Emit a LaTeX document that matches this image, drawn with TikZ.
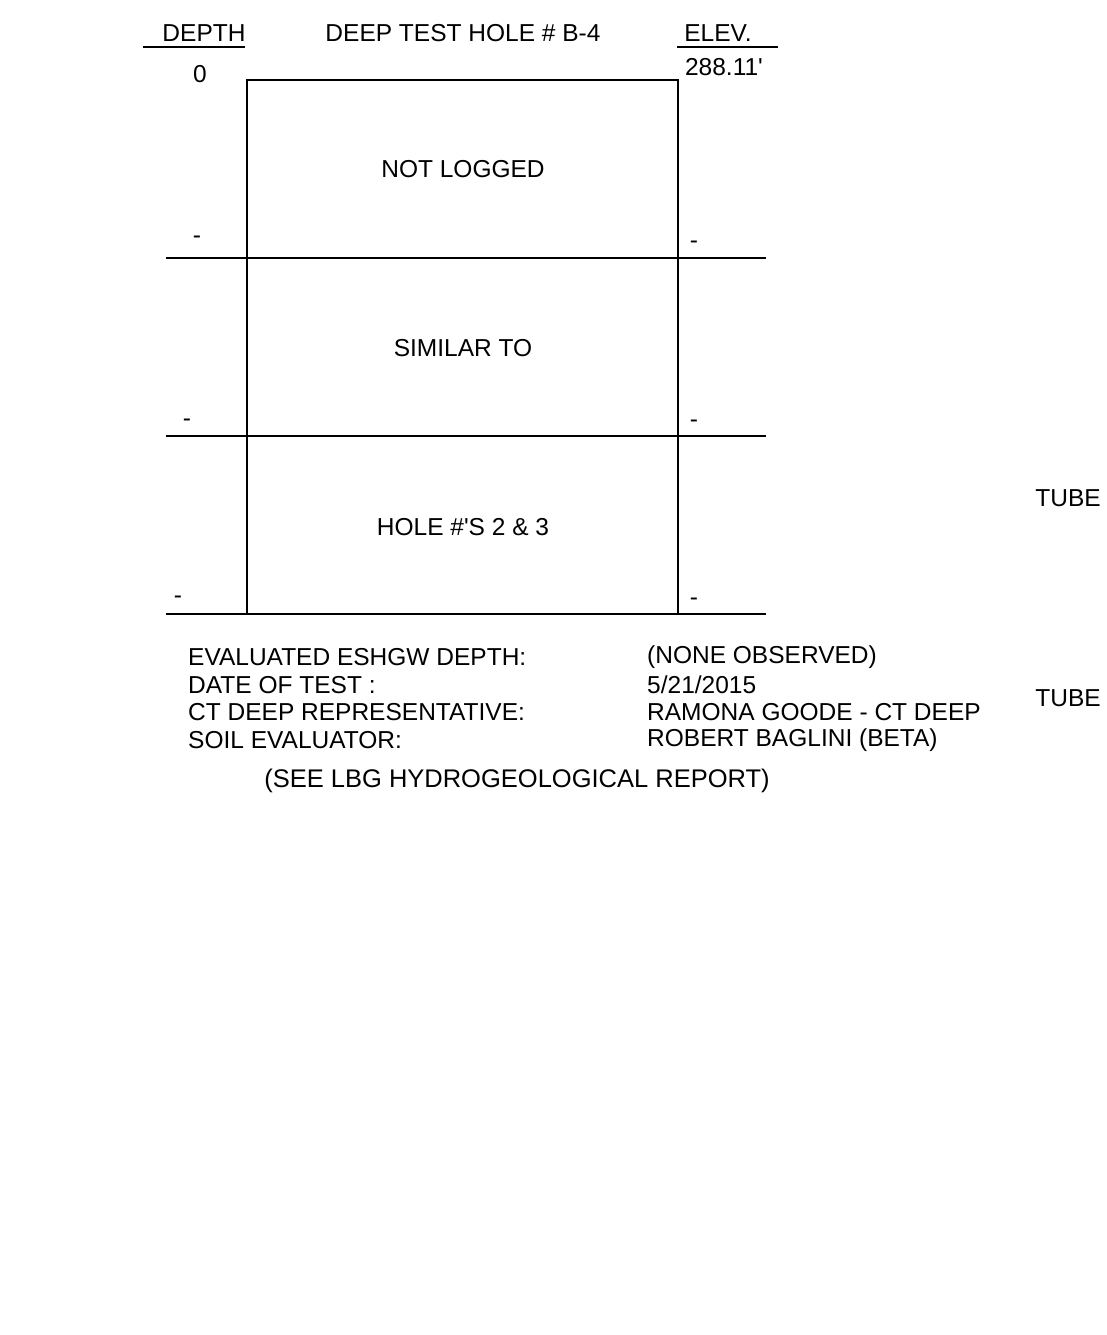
\documentclass[tikz,border=0pt]{standalone}
\usepackage{fontspec}
\setmainfont{Liberation Sans}
\usetikzlibrary{positioning}
\tikzset{
  dth/label/.style={font=\fontsize{24.5}{28}\selectfont, inner sep=0pt, text=black},
  dth/value/.style={dth/label, anchor=west},
  dth/line/.style={draw=black, line width=2pt},
  dth/rule/.style={draw=black, line width=1.8pt}
}

\begin{document}
\begin{tikzpicture}[x=1pt,y=-1pt]
  \useasboundingbox (0,0) rectangle (1106,1335);

  % header
  \node[dth/label] (depthhd) at (204,33) {DEPTH};
  \node[dth/label] (titlehd) at (463,33) {DEEP TEST HOLE \# B-4};
  \node[dth/label] (elevhd) at (718,33) {ELEV.};
  \draw[dth/rule] (143,47) -- (245,47);
  \draw[dth/rule] (677,47) -- (778,47);
  \node[dth/label] (depth0) at (200,74) {0};
  \node[dth/label] (elev0) at (724,67) {288.11\textquotesingle};

  % hole log
  \draw[dth/line] (247,614) -- (247,80) -- (678,80) -- (678,614);
  \foreach \y in {258,436,614}
    \draw[dth/line] (166,\y) -- (766,\y);

  \node[dth/label] (layera) at (463,169) {NOT LOGGED};
  \node[dth/label] (layerb) at (463,348) {SIMILAR TO};
  \node[dth/label] (layerc) at (463,527) {HOLE \#\textquotesingle S 2 \& 3};

  % depth / elevation marks
  \node[dth/label] (dpa) at (197,240) {-};
  \node[dth/label] (dpb) at (187,423) {-};
  \node[dth/label] (dpc) at (178,600) {-};
  \node[dth/label] (ela) at (694,245) {-};
  \node[dth/label] (elb) at (694,424) {-};
  \node[dth/label] (elc) at (694,602) {-};

  \node[dth/label,anchor=east] (tubea) at (1101,498) {TUBE};
  \node[dth/label,anchor=east] (tubeb) at (1101,698) {TUBE};

  % test notes
  \node[dth/value] (notea) at (188,657) {EVALUATED ESHGW DEPTH:};
  \node[dth/value] (noteb) at (188,685) {DATE OF TEST :};
  \node[dth/value] (notec) at (188,712) {CT DEEP REPRESENTATIVE:};
  \node[dth/value] (noted) at (188,740) {SOIL EVALUATOR:};
  \node[dth/value] (vala) at (647,657) {(NONE OBSERVED)};
  \node[dth/value] (valb) at (647,685) {5/21/2015};
  \node[dth/value] (valc) at (647,712) {RAMONA GOODE - CT DEEP};
  \node[dth/value] (vald) at (647,740) {ROBERT BAGLINI (BETA)};
  \node[dth/label,font=\fontsize{25.5}{29}\selectfont] (report) at (517,781) {(SEE LBG HYDROGEOLOGICAL REPORT)};
\end{tikzpicture}
\end{document}
